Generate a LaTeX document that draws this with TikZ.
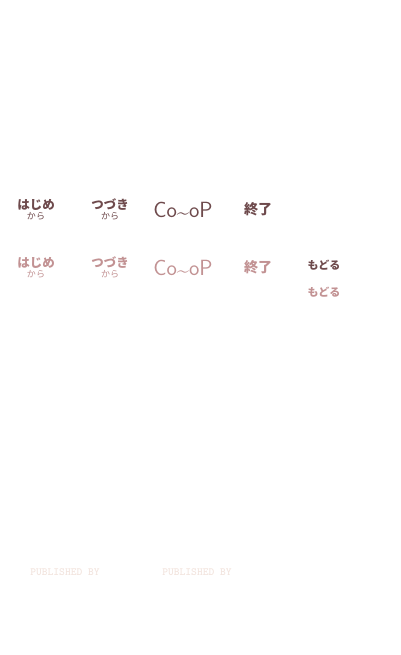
\documentclass[tikz,border=0pt]{standalone}
\usepackage{fontspec}
\newfontfamily\jp{Noto Sans CJK JP}
\usetikzlibrary{positioning}
\definecolor{btndark}{HTML}{6E4A4C}
\definecolor{btnlight}{HTML}{C29293}
\definecolor{pubfaint}{HTML}{F2E4DE}
\newcommand{\coopmark}{Co\raisebox{-1.5pt}{\textasciitilde}oP}
\begin{document}
\begin{tikzpicture}[x=1pt,y=-1pt]

\tikzset{btn/.style={inner sep=0pt, font=\jp\bfseries\fontsize{12.5}{12.5}\selectfont},
         sub/.style={inner sep=0pt, font=\jp\fontsize{9}{9}\selectfont},
         logo/.style={inner sep=0pt, font=\sffamily\fontsize{22}{22}\selectfont},
         pub/.style={inner sep=0pt, text=pubfaint, font=\ttfamily\bfseries\fontsize{11}{11}\selectfont}}

\useasboundingbox (0,0) rectangle (400,655);

% normal state
\begin{scope}[every node/.append style={text=btndark}]
\node[btn] (hajime) at (36,205) {はじめ};
\node[sub, below=1pt of hajime] (hajimekara) {から};
\node[btn] (tsuzuki) at (110,205) {つづき};
\node[sub, below=1pt of tsuzuki] (tsuzukikara) {から};
\node[logo] (coop) at (183,211) {\coopmark};
\node[btn, font=\jp\bfseries\fontsize{14}{14}\selectfont] (shuryo) at (258,209) {終了};
\node[btn, font=\jp\bfseries\fontsize{11}{11}\selectfont] (modoru) at (324,265.5) {もどる};
\end{scope}

% pressed state
\begin{scope}[every node/.append style={text=btnlight}]
\node[btn] (hajimeB) at (36,263) {はじめ};
\node[sub, below=1pt of hajimeB] (hajimekaraB) {から};
\node[btn] (tsuzukiB) at (110,263) {つづき};
\node[sub, below=1pt of tsuzukiB] (tsuzukikaraB) {から};
\node[logo] (coopB) at (183,269) {\coopmark};
\node[btn, font=\jp\bfseries\fontsize{14}{14}\selectfont] (shuryoB) at (258,267) {終了};
\node[btn, font=\jp\bfseries\fontsize{11}{11}\selectfont] (modoruB) at (324,292.5) {もどる};
\end{scope}

\node[pub] (pubA) at (65,572) {PUBLISHED BY};
\node[pub] (pubB) at (197,572) {PUBLISHED BY};

\end{tikzpicture}
\end{document}
